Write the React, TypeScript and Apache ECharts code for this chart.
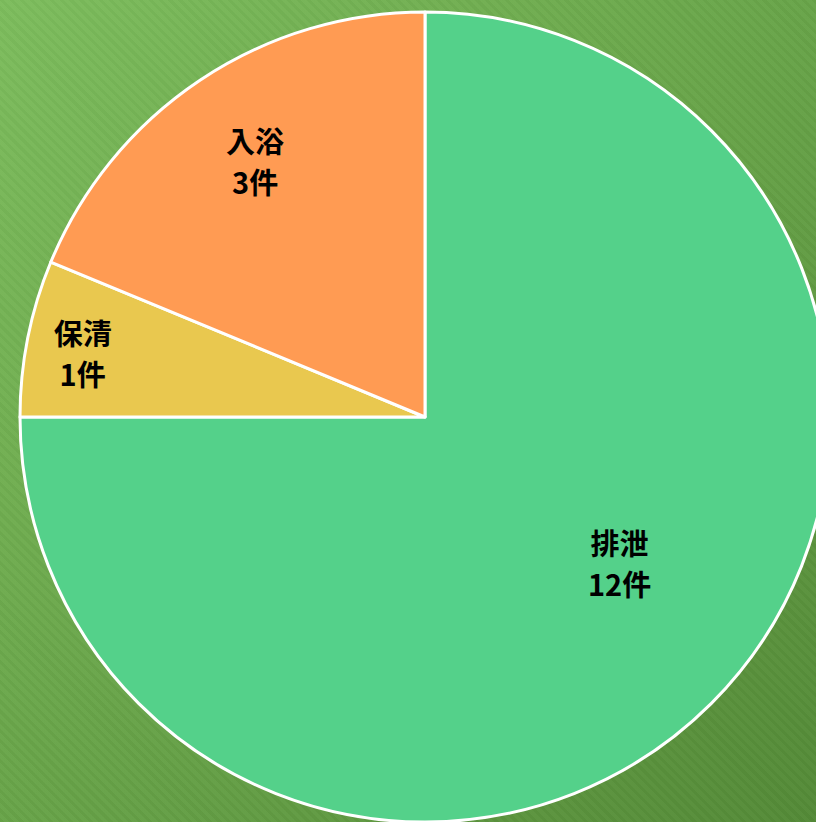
import React, { useEffect, useRef } from "react";
import * as echarts from "echarts";

const categories = ["排泄", "保清", "入浴"];
const counts = [12, 1, 3];
const colors = ["#54D18A", "#E9C84F", "#FF9B53"];
// label placement (angle in degrees, fraction of radius) — styling only
const labelAngles = [-36.8, 169.4, 123.5];
const labelRadii = [0.6, 0.86, 0.76];

const CX = 425;
const CY = 417;
const R = 405;

export default function App() {
  const ref = useRef<HTMLDivElement>(null);
  useEffect(() => {
    if (!ref.current) return;
    const chart = echarts.init(ref.current, null, { renderer: "svg" });
    chart.setOption({
      animation: false,
      backgroundColor: "transparent",
      series: [
        {
          type: "pie",
          center: [CX, CY],
          radius: [0, R],
          startAngle: 90,
          clockwise: true,
          avoidLabelOverlap: false,
          data: categories.map((name, i) => ({
            name,
            value: counts[i],
            itemStyle: { color: colors[i] },
          })),
          itemStyle: { borderColor: "#ffffff", borderWidth: 3 },
          label: {
            show: true,
            position: "inside",
            formatter: (p: any) => `${p.name}\n${p.value}件`,
            color: "#000000",
            fontSize: 29,
            fontWeight: "bold",
            lineHeight: 41,
            fontFamily: "'Noto Sans CJK JP', 'Noto Sans', sans-serif",
            align: "center",
          },
          labelLine: { show: false },
          emphasis: { disabled: true },
          labelLayout: (params: any) => {
            const i = params.dataIndex;
            const a = (labelAngles[i] * Math.PI) / 180;
            const d = labelRadii[i] * R;
            return {
              x: CX + d * Math.cos(a),
              y: CY - d * Math.sin(a),
              align: "center",
              verticalAlign: "middle",
            };
          },
        },
      ],
    });
    return () => chart.dispose();
  }, []);
  return (
    <div
      style={{
        position: "fixed",
        left: 0,
        top: 0,
        width: 816,
        height: 822,
        background:
          "repeating-linear-gradient(45deg, rgba(0,0,0,0.025) 0px, rgba(0,0,0,0.025) 3px, rgba(255,255,255,0.02) 3px, rgba(255,255,255,0.02) 7px), linear-gradient(135deg, #7DBD5D 0%, #68A449 50%, #548A37 100%)",
      }}
    >
      <div ref={ref} style={{ width: 816, height: 822 }} />
    </div>
  );
}
